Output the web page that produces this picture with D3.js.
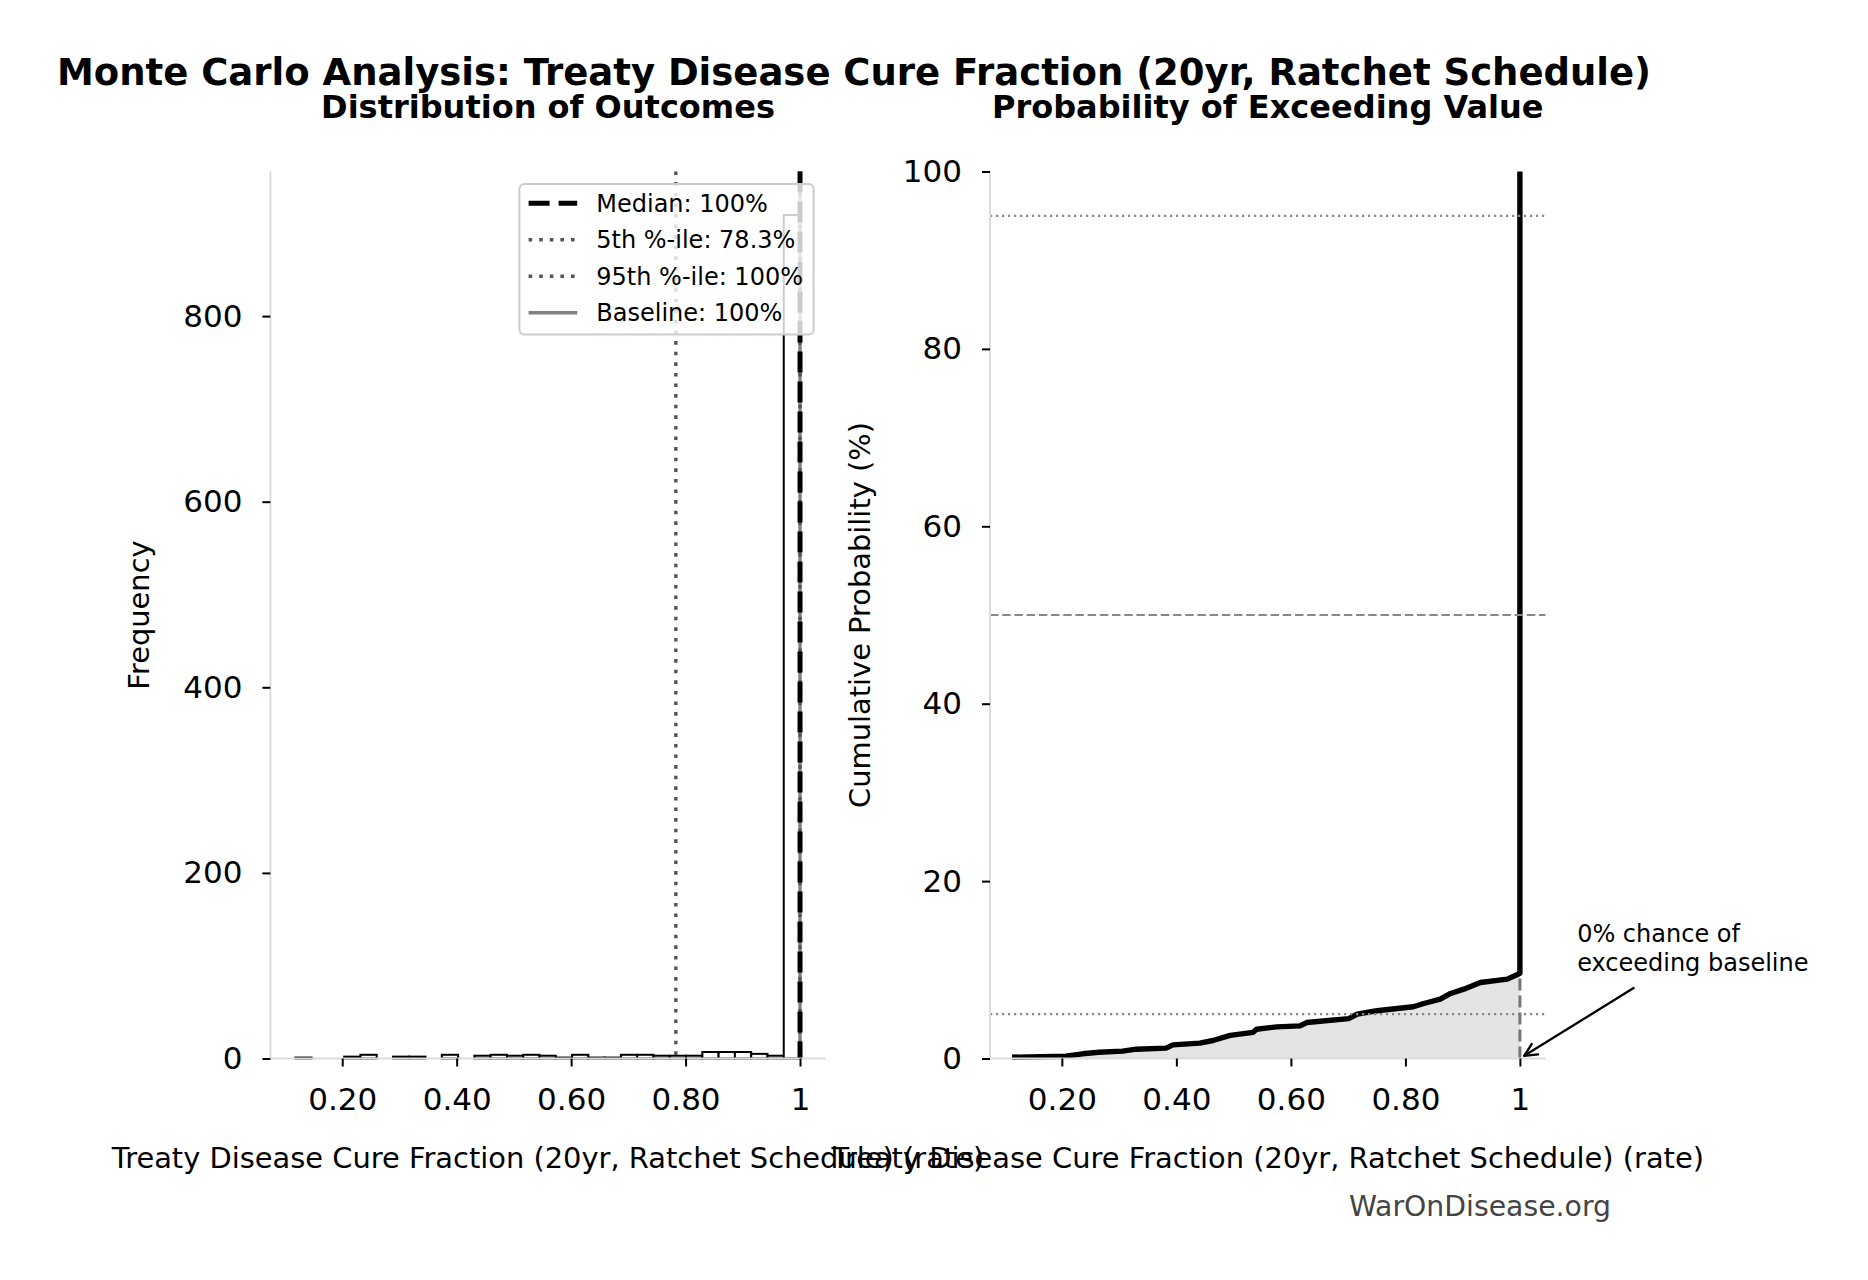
<!DOCTYPE html>
<html>
<head>
<meta charset="utf-8">
<script src="https://d3js.org/d3.v7.min.js"></script>
<style>
  body { margin: 0; background: #fff; }
  svg text { font-family: "DejaVu Sans", sans-serif; fill: #000; }
</style>
</head>
<body>
<script>
// ---- data ----
// histogram: equal-width bins between histMin and histMax
const histMin = 0.118, histMax = 1.0;
const binCounts = [1, 0, 0, 2, 4, 0, 2, 2, 0, 4, 0, 3, 4, 3, 4, 3, 1, 4, 1, 1, 4, 4, 3, 3, 3, 7, 7, 7, 5, 3, 909];

// reference lines on the histogram
const pct5 = 0.783, pct95 = 1.0, medianVal = 1.0, baselineVal = 1.0;
const legendLabels = ["Median: 100%", "5th %-ile: 78.3%", "95th %-ile: 100%", "Baseline: 100%"];

// cumulative curve (x = fraction, y = %)
const cdfX = [0.113, 0.207, 0.236, 0.265, 0.306, 0.330, 0.382, 0.394, 0.441, 0.464, 0.494, 0.534, 0.540, 0.575,
              0.616, 0.628, 0.701, 0.716, 0.750, 0.814, 0.832, 0.861, 0.879, 0.902, 0.931, 0.978, 0.990, 1.000, 1.000];
const cdfY = [0.15, 0.26, 0.53, 0.71, 0.83, 1.05, 1.17, 1.54, 1.73, 2.03, 2.60, 2.95, 3.30, 3.57,
              3.68, 4.06, 4.50, 5.00, 5.38, 5.83, 6.20, 6.70, 7.33, 7.82, 8.57, 8.95, 9.30, 9.60, 100];
const refLevels = [95, 50, 5];

// ticks
const xTicks = [0.2, 0.4, 0.6, 0.8, 1];
const xTickLabels = ["0.20", "0.40", "0.60", "0.80", "1"];
const freqTicks = [0, 200, 400, 600, 800];
const probTicks = [0, 20, 40, 60, 80, 100];

const titleText = "Monte Carlo Analysis: Treaty Disease Cure Fraction (20yr, Ratchet Schedule)";
const xLabelText = "Treaty Disease Cure Fraction (20yr, Ratchet Schedule) (rate)";
const annotLines = ["0% chance of", "exceeding baseline"];

// ---- layout ----
const W = 1868, H = 1280;
const plotTop = 171.5, plotBottom = 1058.5;
const xDomain = [0.0745, 1.0447];
const spineColor = "#dcdcdc";

const svg = d3.select("body").append("svg")
    .attr("width", W).attr("height", H);
svg.append("rect").attr("width", W).attr("height", H).attr("fill", "#fff");

const xL = d3.scaleLinear().domain(xDomain).range([270.4, 825.6]);
const xR = d3.scaleLinear().domain(xDomain).range([990, 1545.5]);
const yL = d3.scaleLinear().domain([0, 955.8]).range([plotBottom, plotTop]);
const yR = d3.scaleLinear().domain([0, 100]).range([plotBottom, plotTop]);

// ---------- left panel: histogram ----------
const left = svg.append("g");
const binW = (histMax - histMin) / binCounts.length;
const bins = binCounts.map((n, i) => ({ x0: histMin + i * binW, x1: histMin + (i + 1) * binW, n: n }));

left.selectAll("rect.bar")
    .data(bins.filter(d => d.n > 0))
    .join("rect")
    .attr("class", "bar")
    .attr("x", d => xL(d.x0))
    .attr("width", d => xL(d.x1) - xL(d.x0))
    .attr("y", d => yL(d.n))
    .attr("height", d => yL(0) - yL(d.n))
    .attr("fill", "#fff")
    .attr("stroke", "#000")
    .attr("stroke-width", 2);

// vertical reference lines
function vline(g, x, color, width, dash) {
    const l = g.append("line")
        .attr("x1", x).attr("x2", x)
        .attr("y1", plotTop).attr("y2", plotBottom)
        .attr("stroke", color).attr("stroke-width", width);
    if (dash) l.attr("stroke-dasharray", dash);
}
vline(left, xL(baselineVal), "#808080", 3.4, null);
vline(left, xL(pct5), "#555", 3.4, "3.6 7");
vline(left, xL(pct95), "#555", 3.4, "3.6 7");
vline(left, xL(medianVal), "#000", 5, "21 9");

// spines
function spines(g, xs) {
    g.append("line").attr("x1", xs.range()[0]).attr("x2", xs.range()[0])
        .attr("y1", plotTop).attr("y2", plotBottom)
        .attr("stroke", spineColor).attr("stroke-width", 2);
    g.append("line").attr("x1", xs.range()[0]).attr("x2", xs.range()[1])
        .attr("y1", plotBottom).attr("y2", plotBottom)
        .attr("stroke", spineColor).attr("stroke-width", 2);
}
spines(left, xL);

function styleAxis(g) {
    g.select(".domain").remove();
    g.selectAll(".tick line").attr("stroke", "#000").attr("stroke-width", 2);
    g.selectAll(".tick text").attr("font-size", 31).attr("font-family", "DejaVu Sans").attr("fill", "#000");
}

left.append("g")
    .attr("transform", `translate(0,${plotBottom})`)
    .call(d3.axisBottom(xL).tickValues(xTicks).tickFormat((d, i) => xTickLabels[i]).tickSize(8).tickPadding(21))
    .call(styleAxis);
left.append("g")
    .attr("transform", `translate(${xL.range()[0]},0)`)
    .call(d3.axisLeft(yL).tickValues(freqTicks).tickFormat(d3.format("d")).tickSize(8).tickPadding(20))
    .call(styleAxis);

// legend
const leg = left.append("g").attr("transform", "translate(519.4,184)");
leg.append("rect")
    .attr("width", 294.2).attr("height", 150.5).attr("rx", 5)
    .attr("fill", "#fff").attr("fill-opacity", 0.8)
    .attr("stroke", "#cccccc").attr("stroke-width", 2);
const legStyles = [
    { color: "#000", width: 5, dash: "21 9" },
    { color: "#555", width: 3.4, dash: "3.6 7" },
    { color: "#555", width: 3.4, dash: "3.6 7" },
    { color: "#808080", width: 3.4, dash: null }
];
legendLabels.forEach((lab, i) => {
    const cy = 19.3 + i * 36.5;
    const l = leg.append("line")
        .attr("x1", 9.2).attr("x2", 57.8).attr("y1", cy).attr("y2", cy)
        .attr("stroke", legStyles[i].color).attr("stroke-width", legStyles[i].width);
    if (legStyles[i].dash) l.attr("stroke-dasharray", legStyles[i].dash);
    leg.append("text")
        .attr("x", 76.9).attr("y", cy).attr("dy", "0.36em")
        .attr("font-size", 24).text(lab);
});

// labels
left.append("text")
    .attr("transform", `translate(139.4,${(plotTop + plotBottom) / 2}) rotate(-90)`)
    .attr("text-anchor", "middle").attr("dominant-baseline", "central")
    .attr("font-size", 28.9).text("Frequency");
left.append("text")
    .attr("x", d3.mean(xL.range())).attr("y", 1167.5)
    .attr("text-anchor", "middle").attr("font-size", 28.9).text(xLabelText);
left.append("text")
    .attr("x", d3.mean(xL.range())).attr("y", 118)
    .attr("text-anchor", "middle").attr("font-size", 32).attr("font-weight", "bold")
    .text("Distribution of Outcomes");

// ---------- right panel: cumulative curve ----------
const right = svg.append("g");
const pts = cdfX.map((x, i) => [x, cdfY[i]]);

right.append("path")
    .datum(pts)
    .attr("fill", "#e4e4e4")
    .attr("d", d3.area().x(d => xR(d[0])).y0(yR(0)).y1(d => yR(d[1])));

right.append("path")
    .datum(pts)
    .attr("fill", "none").attr("stroke", "#000").attr("stroke-width", 5.4)
    .attr("stroke-linejoin", "round")
    .attr("d", d3.line().x(d => xR(d[0])).y(d => yR(d[1])));

refLevels.forEach(lv => {
    right.append("line")
        .attr("x1", xR.range()[0]).attr("x2", xR.range()[1])
        .attr("y1", yR(lv)).attr("y2", yR(lv))
        .attr("stroke", "#888").attr("stroke-width", 2.2)
        .attr("stroke-dasharray", lv === 50 ? "8.5 3.7" : "2.2 3.8");
});

// dashed drop line at the baseline value
right.append("line")
    .attr("x1", xR(baselineVal)).attr("x2", xR(baselineVal))
    .attr("y1", yR(0)).attr("y2", yR(cdfY[cdfY.length - 2]))
    .attr("stroke", "#777").attr("stroke-width", 3)
    .attr("stroke-dasharray", "12 5");

spines(right, xR);

right.append("g")
    .attr("transform", `translate(0,${plotBottom})`)
    .call(d3.axisBottom(xR).tickValues(xTicks).tickFormat((d, i) => xTickLabels[i]).tickSize(8).tickPadding(21))
    .call(styleAxis);
right.append("g")
    .attr("transform", `translate(${xR.range()[0]},0)`)
    .call(d3.axisLeft(yR).tickValues(probTicks).tickFormat(d3.format("d")).tickSize(8).tickPadding(20))
    .call(styleAxis);

// annotation
const annX = xR(1.1), annY = yR(9.9);
annotLines.forEach((t, i) => {
    right.append("text")
        .attr("x", annX).attr("y", annY - (annotLines.length - 1 - i) * 29)
        .attr("font-size", 24).text(t);
});
const a0 = [xR(1.2), yR(8.0)], a1 = [xR(1.0), yR(0)];
const ang = Math.atan2(a1[1] - a0[1], a1[0] - a0[0]);
const tip = [a1[0] - 5 * Math.cos(ang), a1[1] - 5 * Math.sin(ang)];
right.append("line")
    .attr("x1", a0[0]).attr("y1", a0[1]).attr("x2", tip[0]).attr("y2", tip[1])
    .attr("stroke", "#000").attr("stroke-width", 2.3);
[-0.45, 0.45].forEach(da => {
    right.append("line")
        .attr("x1", tip[0]).attr("y1", tip[1])
        .attr("x2", tip[0] - 14 * Math.cos(ang + da)).attr("y2", tip[1] - 14 * Math.sin(ang + da))
        .attr("stroke", "#000").attr("stroke-width", 2.3).attr("stroke-linecap", "round");
});

right.append("text")
    .attr("transform", `translate(860,${(plotTop + plotBottom) / 2}) rotate(-90)`)
    .attr("text-anchor", "middle").attr("dominant-baseline", "central")
    .attr("font-size", 28.9).text("Cumulative Probability (%)");
right.append("text")
    .attr("x", d3.mean(xR.range())).attr("y", 1167.5)
    .attr("text-anchor", "middle").attr("font-size", 28.9).text(xLabelText);
right.append("text")
    .attr("x", d3.mean(xR.range())).attr("y", 118)
    .attr("text-anchor", "middle").attr("font-size", 32).attr("font-weight", "bold")
    .text("Probability of Exceeding Value");

// ---------- figure texts ----------
svg.append("text")
    .attr("x", 854).attr("y", 85)
    .attr("text-anchor", "middle").attr("font-size", 37).attr("font-weight", "bold")
    .text(titleText);
svg.append("text")
    .attr("x", 1611).attr("y", 1215.6)
    .attr("text-anchor", "end").attr("font-size", 28.3)
    .style("fill", "#444").text("WarOnDisease.org");
</script>
</body>
</html>
